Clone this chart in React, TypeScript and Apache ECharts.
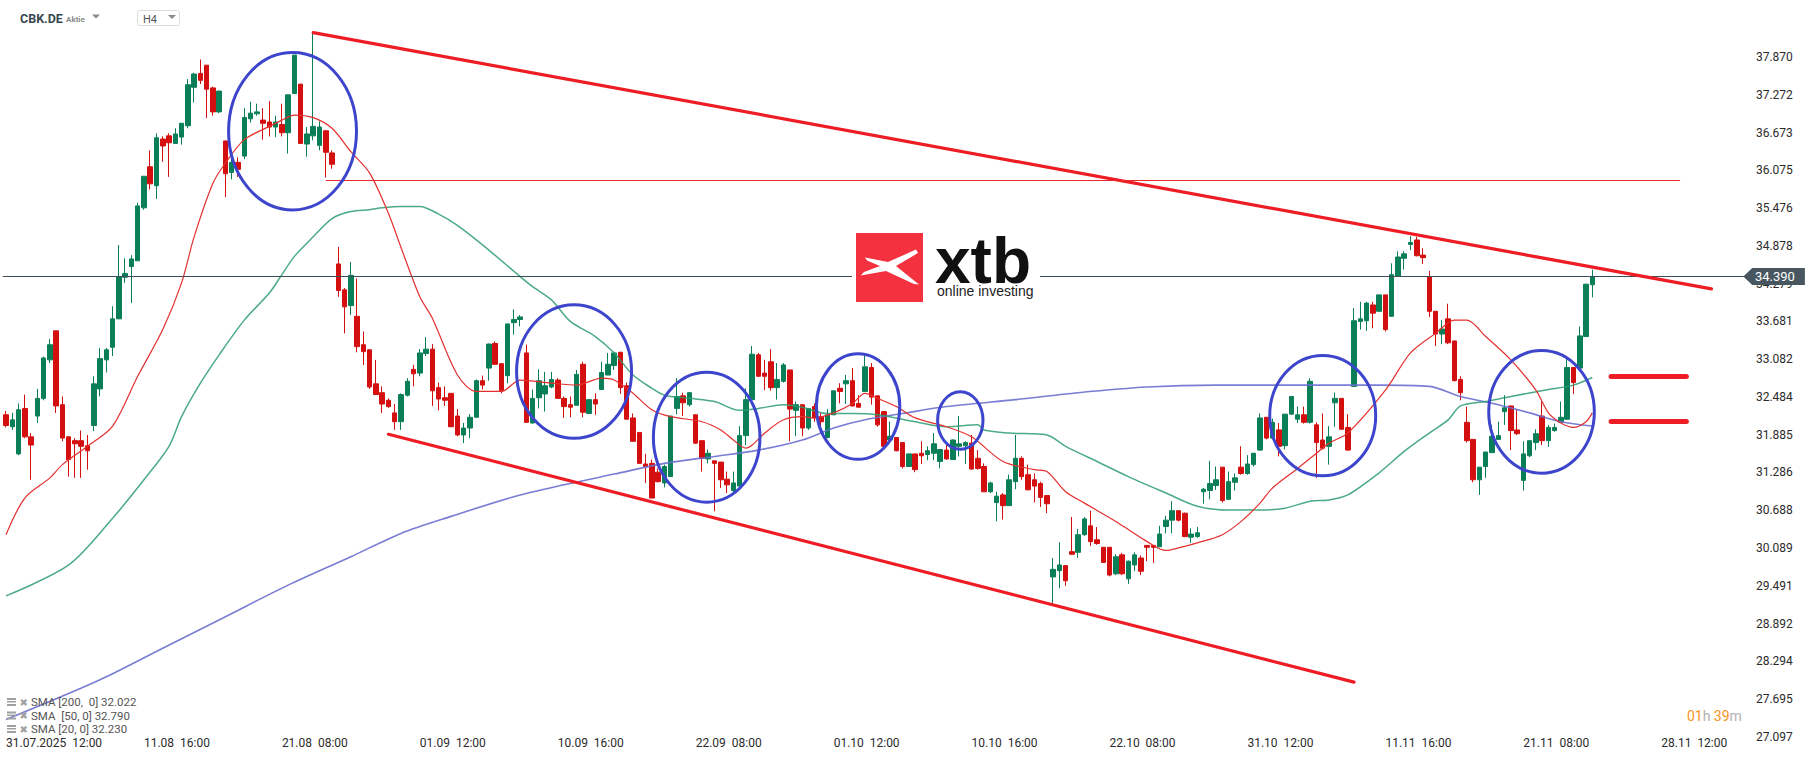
import React, { useEffect, useRef } from "react";
import * as echarts from "echarts";

// ---------- data ----------
const tickLabels = [
  "31.07.2025  12:00", "11.08  16:00", "21.08  08:00", "01.09  12:00", "10.09  16:00",
  "22.09  08:00", "01.10  12:00", "10.10  16:00", "22.10  08:00", "31.10  12:00",
  "11.11  16:00", "21.11  08:00", "28.11  12:00",
];
const tickEvery = 22;
const barCount = 278;

const yTicks = [
  37.87, 37.272, 36.673, 36.075, 35.476, 34.878, 34.279, 33.681, 33.082, 32.484,
  31.885, 31.286, 30.688, 30.089, 29.491, 28.892, 28.294, 27.695, 27.097,
];
const yMin = 27.046;
const yMax = 38.773;

// [open, close, low, high]
const candles = [
  [32.20,32.03,32.00,32.26],[32.01,32.12,31.96,32.23],[31.58,32.28,31.56,32.38],[32.30,31.85,31.83,32.52],
  [31.85,31.72,31.17,31.91],[32.18,32.46,32.07,32.61],[32.46,33.10,32.43,33.12],[33.07,33.31,33.02,33.40],
  [33.53,32.34,32.23,33.53],[32.36,31.83,31.78,32.49],[31.85,31.49,31.22,31.86],[31.79,31.74,31.20,31.83],
  [31.79,31.70,31.20,31.95],[31.71,31.63,31.33,31.88],[32.03,32.69,31.94,32.81],[32.61,33.09,32.49,33.26],
  [33.07,33.23,32.87,33.26],[33.27,33.72,33.13,33.92],[33.72,34.39,33.72,34.89],[34.38,34.44,34.29,34.68],
  [34.55,34.67,33.97,34.73],[34.64,35.51,34.64,35.56],[35.48,35.98,35.45,35.98],[36.13,35.86,35.77,36.39],
  [35.83,36.59,35.62,36.66],[36.57,36.46,36.21,36.61],[36.62,36.51,35.97,36.66],[36.50,36.65,36.49,36.74],
  [36.60,36.82,36.48,36.82],[36.78,37.43,36.74,37.52],[37.39,37.60,37.15,37.62],[37.61,37.50,37.44,37.83],
  [37.74,37.36,36.90,37.74],[37.38,37.00,36.94,37.40],[37.00,37.33,36.98,37.33],[36.54,36.02,35.65,36.54],
  [36.04,36.20,35.93,36.29],[36.20,36.09,35.97,36.28],[36.30,36.91,36.25,37.06],[36.89,36.98,36.83,37.16],
  [36.97,37.00,36.94,37.13],[36.87,36.82,36.56,37.06],[36.84,36.76,36.61,37.17],[36.76,36.84,36.60,36.94],
  [36.80,36.67,36.61,37.13],[36.67,37.27,36.34,37.27],[37.29,37.90,37.29,37.90],[37.44,36.50,36.50,37.44],
  [36.49,36.65,36.29,36.76],[36.62,36.77,36.55,38.26],[36.47,36.76,36.39,36.85],[36.70,36.36,35.96,36.71],
  [36.35,36.17,36.10,36.39],[34.59,34.17,34.07,34.86],[34.18,33.91,33.49,34.21],[33.93,34.41,33.78,34.62],
  [33.76,33.28,33.19,34.36],[33.31,33.20,32.99,33.52],[33.23,32.64,32.61,33.23],[32.69,32.52,32.52,33.07],
  [32.55,32.37,32.23,32.65],[32.43,32.33,32.31,32.46],[32.23,32.09,31.96,32.37],[32.09,32.52,31.96,32.54],
  [32.51,32.73,32.49,32.78],[32.92,32.85,32.65,32.99],[32.86,33.18,32.81,33.24],[33.17,33.24,33.13,33.43],
  [33.24,32.58,32.34,33.32],[32.63,32.45,32.27,32.71],[32.47,32.43,32.34,32.65],[32.54,32.01,32.01,32.54],
  [32.18,31.88,31.86,32.29],[31.88,31.99,31.75,32.07],[31.99,32.16,31.83,32.21],[32.16,32.74,32.16,32.76],
  [32.74,32.67,32.60,32.82],[32.94,33.32,32.74,33.33],[33.33,33.00,32.99,33.36],[33.01,32.58,32.54,33.01],
  [32.82,33.64,32.70,33.64],[33.66,33.71,33.47,33.87],[33.71,33.75,33.60,33.78],[33.18,32.08,32.08,33.31],
  [32.07,32.46,32.06,32.60],[32.47,32.74,32.30,32.92],[32.53,32.66,32.25,32.88],[32.64,32.76,32.62,32.88],
  [32.75,32.46,32.45,32.78],[32.46,32.33,32.15,32.49],[32.36,32.32,32.16,32.49],[32.35,32.84,32.35,32.91],
  [33.00,32.24,32.16,33.04],[32.22,32.44,32.21,32.44],[32.44,32.37,32.20,32.54],[32.60,32.87,32.60,33.04],
  [32.83,33.00,32.83,33.18],[32.98,33.18,32.91,33.20],[33.19,32.63,32.53,33.20],[32.66,32.13,32.13,32.71],
  [32.15,31.78,31.77,32.22],[31.92,31.43,31.43,31.92],[31.42,31.38,31.12,31.58],[31.43,30.88,30.88,31.49],
  [31.29,31.14,31.13,31.35],[31.12,31.38,31.05,31.41],[31.22,32.18,31.22,32.18],[32.30,32.49,32.21,32.78],
  [32.50,32.39,32.18,32.55],[32.36,32.55,32.33,32.56],[32.20,31.75,31.74,32.20],[31.79,31.51,31.30,31.79],
  [31.50,31.59,31.43,31.65],[31.47,31.43,30.67,31.47],[31.45,31.17,31.04,31.45],[31.18,31.09,30.96,31.30],
  [31.00,31.12,30.93,31.30],[31.07,31.87,31.07,32.02],[31.87,32.44,31.72,32.62],[32.44,33.16,32.44,33.29],
  [33.15,32.81,32.80,33.18],[32.86,32.81,32.59,33.07],[33.04,32.63,32.58,33.24],[32.63,32.76,32.44,33.02],
  [32.73,32.99,32.71,33.02],[32.91,32.29,31.78,32.91],[32.27,32.36,31.86,32.41],[32.36,31.99,31.86,32.36],
  [31.99,32.30,31.96,32.30],[32.33,32.15,32.09,32.38],[32.17,32.09,31.96,32.23],[31.84,32.20,31.83,32.29],
  [32.20,32.58,32.20,32.58],[32.62,32.57,32.38,32.70],[32.69,32.74,32.37,32.83],[32.74,32.34,32.33,32.94],
  [32.38,32.32,32.32,32.51],[32.57,32.96,32.57,33.16],[32.95,32.48,32.36,33.02],[32.50,32.04,32.01,32.50],
  [32.25,31.70,31.70,32.25],[31.80,31.86,31.80,32.09],[31.84,31.63,31.62,31.84],[31.76,31.38,31.35,31.76],
  [31.38,31.58,31.38,31.58],[31.58,31.33,31.29,31.58],[31.59,31.55,31.42,31.78],[31.57,31.63,31.48,31.70],
  [31.59,31.74,31.48,31.91],[31.46,31.65,31.35,31.65],[31.64,31.50,31.49,31.74],[31.49,31.80,31.49,31.81],
  [31.70,31.74,31.54,32.18],[31.71,31.76,31.42,31.78],[31.75,31.34,31.33,31.88],[31.51,31.35,31.33,31.64],
  [31.38,30.98,30.98,31.43],[30.98,31.12,30.96,31.14],[30.81,30.91,30.51,30.98],[30.93,30.76,30.54,30.96],
  [30.76,31.17,30.76,31.25],[31.14,31.51,31.02,31.88],[31.51,31.22,31.17,31.54],[31.25,31.01,31.01,31.41],
  [31.17,31.07,30.81,31.27],[31.11,30.89,30.74,31.14],[30.92,30.79,30.64,30.92],[29.63,29.75,29.19,29.93],
  [29.73,29.82,29.45,30.18],[29.81,29.57,29.49,29.81],[30.03,29.99,29.98,30.58],[30.02,30.30,29.93,30.39],
  [30.30,30.55,30.28,30.58],[30.44,30.19,30.12,30.68],[30.22,30.16,30.14,30.42],[30.10,29.86,29.85,30.10],
  [30.10,29.66,29.64,30.10],[29.68,29.95,29.66,29.99],[29.98,29.68,29.66,30.01],[29.60,29.88,29.52,29.89],
  [29.82,29.98,29.72,30.02],[29.93,29.72,29.66,29.97],[30.13,30.10,29.88,30.13],[30.13,30.10,29.85,30.13],
  [30.11,30.31,30.10,30.44],[30.43,30.53,30.32,30.60],[30.53,30.68,30.32,30.83],[30.68,30.53,30.51,30.69],
  [30.64,30.27,30.26,30.65],[30.26,30.31,30.17,30.40],[30.27,30.33,30.25,30.42],[30.98,31.02,30.79,31.04],
  [31.00,31.11,30.86,31.47],[31.08,31.17,31.01,31.38],[31.37,30.84,30.81,31.37],[30.86,31.14,30.85,31.30],
  [31.13,31.20,31.00,31.27],[31.37,31.27,31.25,31.70],[31.27,31.42,31.25,31.56],[31.41,31.59,31.38,31.59],
  [31.64,32.15,31.63,32.22],[32.16,31.83,31.81,32.16],[31.83,32.08,31.81,32.14],[31.96,31.70,31.54,32.07],
  [31.71,32.21,31.65,32.21],[32.21,32.49,32.20,32.49],[32.13,32.20,32.07,32.33],[32.20,32.08,32.06,32.33],
  [32.08,32.73,32.06,32.78],[32.04,31.76,31.20,32.08],[31.80,31.67,31.65,32.22],[31.70,31.85,31.41,32.02],
  [32.39,32.46,32.01,32.55],[32.46,31.97,31.97,32.46],[32.00,31.64,31.63,32.21],[32.65,33.69,32.65,33.89],
  [33.68,33.72,33.55,33.99],[33.69,33.97,33.53,33.99],[33.94,33.81,33.57,33.99],[33.84,34.10,33.84,34.10],
  [34.10,33.55,33.52,34.10],[33.76,34.42,33.76,34.60],[34.40,34.70,34.40,34.79],[34.68,34.75,34.50,34.79],
  [34.90,34.93,34.81,35.03],[34.97,34.72,34.71,35.02],[34.73,34.69,34.59,34.84],[34.39,33.84,33.75,34.48],
  [33.84,33.48,33.29,33.84],[33.48,33.56,33.32,33.70],[33.72,33.34,33.32,33.96],[33.37,32.74,32.73,33.37],
  [32.76,32.55,32.43,32.81],[32.08,31.79,31.76,32.33],[31.81,31.17,31.13,31.81],[31.17,31.37,30.93,31.37],
  [31.38,31.61,31.20,31.61],[31.60,31.86,31.60,32.04],[31.81,31.87,31.80,32.09],[32.25,32.31,32.04,32.51],
  [32.34,31.95,31.64,32.34],[31.96,31.90,31.88,32.28],[31.16,31.58,31.00,31.78],[31.55,31.79,31.53,31.79],
  [31.76,31.90,31.64,31.97],[32.18,31.79,31.72,32.41],[31.79,32.00,31.69,32.04],[31.95,32.00,31.93,32.06],
  [32.08,32.16,32.07,32.41],[32.13,32.95,32.12,33.13],[32.95,32.71,32.53,32.95],[32.94,33.45,32.94,33.60],
  [33.44,34.27,33.44,34.27],[34.26,34.39,34.06,34.50],
];

// [bar index, value]
const sma20 = [
  [0,30.30],[3,30.88],[7,31.20],[9,31.41],[13,31.70],[17,32.02],[21,32.81],[25,33.55],[28,34.29],[30,35.02],
  [33,35.87],[35,36.19],[38,36.56],[42,36.77],[44,36.87],[46,36.95],[49,36.91],[52,36.74],[55,36.37],[58,36.03],
  [61,35.39],[63,34.85],[66,34.07],[68,33.73],[72,32.83],[75,32.57],[79,32.57],[82,32.75],[87,32.70],[91,32.67],
  [95,32.78],[97,32.75],[100,32.54],[103,32.28],[106,32.17],[111,32.09],[114,31.96],[116,31.80],[118,31.67],[119,31.72],
  [121,31.91],[124,32.12],[127,32.17],[129,32.15],[132,32.23],[135,32.38],[137,32.54],[139,32.46],[142,32.33],[145,32.15],
  [150,32.01],[154,31.85],[159,31.46],[164,31.33],[166,31.30],[169,30.98],[172,30.80],[177,30.51],[179,30.38],[182,30.19],
  [185,30.05],[187,30.09],[190,30.17],[194,30.30],[197,30.51],[200,30.80],[202,31.04],[206,31.35],[209,31.59],[211,31.75],
  [214,31.91],[220,32.59],[224,33.18],[228,33.49],[231,33.70],[233,33.70],[236,33.44],[240,33.07],[244,32.59],[246,32.23],
  [248,32.07],[250,32.00],[252,32.09],[253,32.23],
];
const sma50 = [
  [0,29.33],[10,29.82],[17,30.56],[22,31.17],[26,31.70],[28,32.17],[31,32.70],[34,33.15],[38,33.70],[42,34.13],
  [44,34.42],[46,34.71],[49,35.02],[52,35.31],[55,35.42],[58,35.45],[60,35.48],[63,35.50],[66,35.50],[69,35.38],
  [72,35.20],[77,34.81],[82,34.39],[84,34.23],[87,34.02],[90,33.68],[94,33.44],[97,33.18],[100,32.83],[103,32.62],
  [105,32.51],[109,32.46],[113,32.41],[117,32.27],[120,32.30],[124,32.36],[127,32.32],[131,32.22],[135,32.22],[139,32.20],
  [145,32.09],[150,32.01],[155,32.04],[156,31.96],[160,31.91],[166,31.88],[169,31.70],[174,31.46],[179,31.22],[185,30.96],
  [190,30.75],[195,30.69],[200,30.69],[204,30.72],[208,30.83],[211,30.85],[214,30.93],[219,31.28],[223,31.62],[227,31.91],
  [230,32.12],[232,32.34],[236,32.41],[240,32.49],[246,32.60],[250,32.67],[253,32.79],
];
const sma200 = [
  [0,27.37],[15,28.00],[25,28.50],[35,29.00],[45,29.50],[55,29.95],[63,30.32],[71,30.59],[81,30.90],[89,31.09],
  [97,31.26],[105,31.43],[113,31.54],[120,31.64],[127,31.80],[132,31.99],[137,32.12],[143,32.22],[150,32.33],[161,32.44],
  [171,32.55],[182,32.64],[193,32.67],[203,32.67],[219,32.67],[227,32.65],[232,32.49],[238,32.36],[243,32.23],[248,32.09],
  [253,32.022],
];

const lastPrice = 34.39;
// [fromIdx, fromPrice, toIdx, toPrice]
const channelLines = [
  [49, 38.256, 272, 34.195],
  [61, 31.891, 215, 27.963],
];
const resistanceLine = [51, 35.917, 267, 35.917];
const targetLines = [
  [256, 32.817, 268, 32.817],
  [256, 32.104, 268, 32.104],
];
// [centerIdx, centerPrice, halfWidth (bars), halfHeight (price)]
const circles = [
  [45.7, 36.693, 10.2, 1.247],
  [90.6, 32.885, 9.17, 1.057],
  [111.75, 31.845, 8.5, 1.03],
  [135.9, 32.33, 6.65, 0.836],
  [152.2, 32.109, 3.62, 0.456],
  [210.0, 32.186, 8.45, 0.954],
  [244.9, 32.246, 8.42, 0.971],
];

// ---------- style ----------
const GREEN = "#0a7f57";
const RED = "#d30f0f";
const TREND = "#ee1d25";
const FONT = "Roboto";

function buildOption() {
  const categories = Array.from({ length: barCount }, (_, i) => "b" + i);
  const circleData = circles.map(([x, y, rx, ry]) => {
    const i0 = Math.floor(x);
    return [i0, y, rx, ry, x - i0];
  });
  const seg = (l: number[], style: any) => [
    { coord: [l[0], l[1]], lineStyle: style, label: { show: false } },
    { coord: [l[2], l[3]] },
  ];
  const trendStyle = { color: TREND, width: 3.2, type: "solid", cap: "round" };
  const legendRows = [
    ["SMA [200,  0] ", sma200],
    ["SMA  [50, 0] ", sma50],
    ["SMA [20, 0] ", sma20],
  ] as const;
  const legendY = [702, 715.5, 729];
  const legendGraphics: any[] = [];
  legendRows.forEach((row, k) => {
    const y = legendY[k];
    const arr = row[1] as number[][];
    legendGraphics.push(
      { type: "rect", shape: { x: 7, y: y - 4, width: 9, height: 2 }, style: { fill: "#a0a0a0" }, z: 100 },
      { type: "rect", shape: { x: 7, y: y - 1, width: 9, height: 1.5 }, style: { fill: "#a0a0a0" }, z: 100 },
      { type: "rect", shape: { x: 7, y: y + 2, width: 9, height: 2 }, style: { fill: "#a0a0a0" }, z: 100 },
      {
        type: "text", x: 19.5, y, z: 100,
        style: { text: "✖", fontSize: 10, fontFamily: "DejaVu Sans", fill: "#a0a0a0", verticalAlign: "middle", textVerticalAlign: "middle" },
      },
      {
        type: "text", x: 31, y, z: 100,
        style: {
          text: row[0] + arr[arr.length - 1][1].toFixed(3),
          fontSize: 11.5, fontFamily: FONT, fill: "#555", verticalAlign: "middle", textVerticalAlign: "middle",
        },
      }
    );
  });

  const LX = 856, LY = 233;
  const xPts = [
    [9, 24.6], [32, 29], [60, 16.6], [62, 20], [40, 33], [63, 51.6], [58, 51], [30, 38],
    [4.7, 42.5], [8, 39], [24, 33], [11, 27.5],
  ].map(([a, b]) => [LX + a, LY + b]);

  return {
    animation: false,
    backgroundColor: "#fff",
    textStyle: { fontFamily: FONT },
    grid: { left: 2.865, right: 69.07, top: 0, bottom: 21, containLabel: false },
    xAxis: {
      type: "category",
      data: categories,
      boundaryGap: true,
      axisLine: { show: false },
      axisTick: { show: false },
      splitLine: { show: false },
      axisLabel: {
        interval: (i: number) => i % tickEvery === 0,
        formatter: (_v: string, i: number) => tickLabels[i / tickEvery] ?? "",
        align: "left",
        color: "#2b2b2b",
        fontSize: 12,
        fontFamily: FONT,
        margin: -3,
      },
    },
    yAxis: {
      type: "value",
      position: "right",
      min: yMin,
      max: yMax,
      axisLine: { show: false },
      axisTick: { show: false },
      splitLine: { show: false },
      axisLabel: {
        customValues: yTicks,
        formatter: (v: number) => v.toFixed(3),
        color: "#2b2b2b",
        fontSize: 12,
        fontFamily: FONT,
        margin: 10,
      },
    },
    series: [
      {
        type: "candlestick",
        data: candles,
        barWidth: 5,
        z: 3,
        itemStyle: { color: GREEN, color0: RED, borderColor: GREEN, borderColor0: RED, borderWidth: 1 },
        markLine: {
          silent: true,
          symbol: ["none", "none"],
          animation: false,
          z: 6,
          data: [
            {
              yAxis: lastPrice,
              lineStyle: { color: "#3e4c56", width: 1, type: "solid" },
              label: {
                show: true,
                position: "end",
                formatter: lastPrice.toFixed(3),
                backgroundColor: "#48565f",
                color: "#fff",
                fontSize: 13,
                fontFamily: FONT,
                lineHeight: 13,
                padding: [2, 10, 2, 3],
                distance: 6,
              },
            },
            ...channelLines.map((l) => seg(l, trendStyle)),
            seg(resistanceLine, { color: "#e8282d", width: 1.2, type: "solid" }),
            ...targetLines.map((l) => seg(l, { color: TREND, width: 5, type: "solid", cap: "round" })),
          ],
        },
        markPoint: {
          silent: true,
          animation: false,
          z: 7,
          data: [{ coord: [barCount - 1, lastPrice] }],
          symbol: "triangle",
          symbolSize: [17, 9],
          symbolRotate: 90,
          symbolOffset: [5, 0],
          itemStyle: { color: "#48565f" },
          label: { show: false },
        },
      },
      {
        type: "line", name: "SMA200", data: sma200, showSymbol: false, smooth: 0.3, z: 4,
        lineStyle: { color: "#6a6fcf", width: 1.6, opacity: 0.9 },
      },
      {
        type: "line", name: "SMA50", data: sma50, showSymbol: false, smooth: 0.3, z: 4,
        lineStyle: { color: "#2b9c70", width: 1.5, opacity: 0.85 },
      },
      {
        type: "line", name: "SMA20", data: sma20, showSymbol: false, smooth: 0.3, z: 4,
        lineStyle: { color: "#e3302f", width: 1.2 },
      },
      {
        type: "custom",
        z: 8,
        clip: false,
        data: circleData,
        encode: { x: 0, y: 1 },
        renderItem: (_p: any, api: any) => {
          const c = api.coord([api.value(0), api.value(1)]);
          const s = api.size([1, api.value(3) * 2], [api.value(0), api.value(1)]);
          const bw = s[0];
          return {
            type: "ellipse",
            shape: { cx: c[0] + api.value(4) * bw, cy: c[1], rx: api.value(2) * bw, ry: s[1] / 2 },
            style: { fill: "none", stroke: "#3c45cc", lineWidth: 3 },
          };
        },
      },
    ],
    graphic: [
      // header
      { type: "text", x: 20, y: 18.5, z: 100, style: { text: "CBK.DE", fontSize: 12.5, fontWeight: "bold", fontFamily: FONT, fill: "#37474f", verticalAlign: "middle", textVerticalAlign: "middle" } },
      { type: "text", x: 66, y: 19.5, z: 100, style: { text: "Aktie", fontSize: 8, fontWeight: "bold", fontFamily: FONT, fill: "#8a8a8a", verticalAlign: "middle", textVerticalAlign: "middle" } },
      { type: "polygon", z: 100, shape: { points: [[92, 14.5], [100, 14.5], [96, 18.5]] }, style: { fill: "#8a8a8a" } },
      { type: "rect", z: 100, shape: { x: 137.5, y: 10.5, width: 42, height: 15, r: 2 }, style: { fill: "#fff", stroke: "#dcdcdc", lineWidth: 1 } },
      { type: "text", x: 143, y: 19, z: 101, style: { text: "H4", fontSize: 11, fontFamily: FONT, fill: "#555", verticalAlign: "middle", textVerticalAlign: "middle" } },
      { type: "polygon", z: 101, shape: { points: [[168, 15], [176, 15], [172, 19]] }, style: { fill: "#8a8a8a" } },
      // logo
      { type: "rect", z: 100, shape: { x: 852, y: 230, width: 188, height: 74 }, style: { fill: "#fff" } },
      { type: "rect", z: 101, shape: { x: LX, y: LY, width: 67, height: 69 }, style: { fill: "#f4323f" } },
      { type: "polygon", z: 102, shape: { points: xPts }, style: { fill: "#fff" } },
      { type: "text", x: 935, y: 261, z: 101, style: { text: "xtb", fontSize: 64, lineHeight: 46, fontWeight: "bold", fontFamily: "Liberation Sans", fill: "#111", verticalAlign: "middle", textVerticalAlign: "middle" } },
      { type: "text", x: 937, y: 291, z: 101, style: { text: "online investing", fontSize: 14, lineHeight: 12, fontFamily: "Liberation Sans", fill: "#222", verticalAlign: "middle", textVerticalAlign: "middle" } },
      // timer
      {
        type: "text", x: 1687, y: 716, z: 100,
        style: {
          text: "{o|01}{g|h} {o|39}{g|m}",
          verticalAlign: "middle", textVerticalAlign: "middle",
          rich: {
            o: { fill: "#f7931e", color: "#f7931e", fontSize: 14, fontFamily: FONT },
            g: { fill: "#b0b0b0", color: "#b0b0b0", fontSize: 14, fontFamily: FONT },
          },
        },
      },
      ...legendGraphics,
    ],
  };
}

export default function App() {
  const ref = useRef<HTMLDivElement>(null);
  useEffect(() => {
    document.body.style.margin = "0";
    const chart = echarts.init(ref.current!, null, { renderer: "svg" });
    chart.setOption(buildOption() as any);
    return () => chart.dispose();
  }, []);
  return (
    <div
      ref={ref}
      style={{ position: "absolute", left: 0, top: 0, width: 1815, height: 761, background: "#fff" }}
    />
  );
}
